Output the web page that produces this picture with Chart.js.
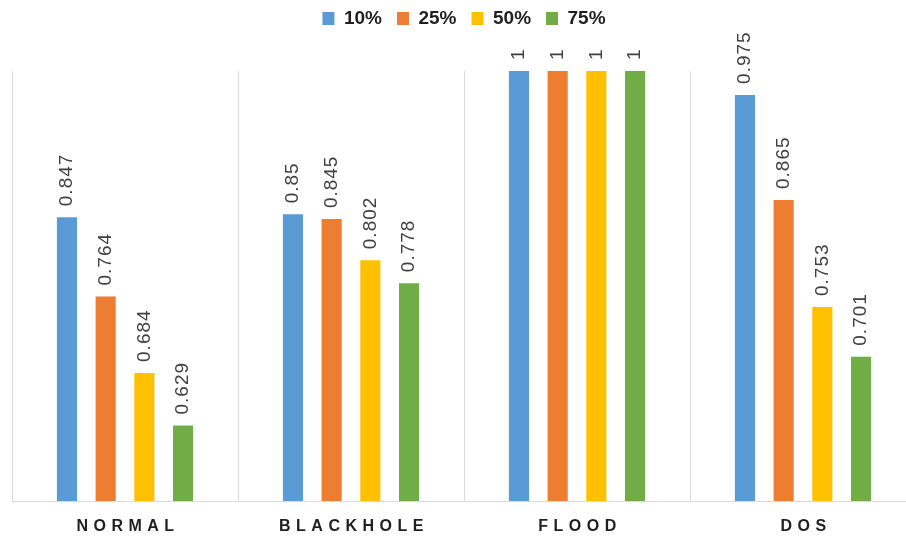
<!DOCTYPE html>
<html>
<head>
<meta charset="utf-8">
<script src="https://cdn.jsdelivr.net/npm/chart.js@4.4.1/dist/chart.umd.min.js"></script>
<style>
  html, body { margin: 0; padding: 0; background: #fff; overflow: hidden; }
  #wrap { width: 920px; height: 541px; }
</style>
</head>
<body>
<div id="wrap"><canvas id="chart"></canvas></div>
<script>
// datos del gráfico
const categories = ['NORMAL', 'BLACKHOLE', 'FLOOD', 'DOS'];
const seriesNames = ['10%', '25%', '50%', '75%'];
const values10 = [0.847, 0.85, 1, 0.975];
const values25 = [0.764, 0.845, 1, 0.865];
const values50 = [0.684, 0.802, 1, 0.753];
const values75 = [0.629, 0.778, 1, 0.701];
const colors = ['#5B9BD5', '#ED7D31', '#FFC000', '#70AD47'];

// más espacio bajo la leyenda
const legendGap = {
    id: 'legendGap',
    beforeInit(chart) {
        const fit = chart.legend.fit;
        chart.legend.fit = function () {
            fit.call(this);
            this.height += 33;
        };
    }
};

// etiquetas de valor giradas encima de cada barra
const valueLabels = {
    id: 'valueLabels',
    afterDatasetsDraw(chart) {
        const ctx = chart.ctx;
        ctx.save();
        ctx.font = '19px "Liberation Sans", Arial, sans-serif';
        ctx.fillStyle = '#404040';
        ctx.letterSpacing = '1px';
        ctx.textAlign = 'left';
        ctx.textBaseline = 'middle';
        chart.data.datasets.forEach((ds, i) => {
            chart.getDatasetMeta(i).data.forEach((bar, j) => {
                ctx.save();
                ctx.translate(bar.x, bar.y - 11);
                ctx.rotate(-Math.PI / 2);
                ctx.fillText(String(ds.data[j]), 0, 0);
                ctx.restore();
            });
        });
        ctx.restore();
    }
};

// nombres de categoría con espaciado de letras
const categoryLabels = {
    id: 'categoryLabels',
    afterDraw(chart) {
        const ctx = chart.ctx;
        const xScale = chart.scales.x;
        ctx.save();
        ctx.font = 'bold 16px "Liberation Sans", Arial, sans-serif';
        ctx.fillStyle = '#1f1f1f';
        ctx.letterSpacing = '5.5px';
        ctx.textAlign = 'center';
        ctx.textBaseline = 'middle';
        categories.forEach((label, i) => {
            ctx.fillText(label, xScale.getPixelForTick(i) + 3, 527);
        });
        ctx.restore();
    }
};

const data = [values10, values25, values50, values75];

new Chart(document.getElementById('chart'), {
    type: 'bar',
    data: {
        labels: categories,
        datasets: seriesNames.map((name, i) => ({
            label: name,
            data: data[i],
            backgroundColor: colors[i],
            categoryPercentage: 0.685,
            barPercentage: 0.52
        }))
    },
    options: {
        responsive: true,
        maintainAspectRatio: false,
        animation: false,
        layout: {
            padding: { left: 12, right: 4, top: -6, bottom: 40 }
        },
        plugins: {
            legend: {
                position: 'top',
                labels: {
                    boxWidth: 12,
                    boxHeight: 13,
                    padding: 15,
                    color: '#1f1f1f',
                    font: { family: '"Liberation Sans", sans-serif', size: 19, weight: 'bold' }
                }
            },
            tooltip: { enabled: false }
        },
        scales: {
            x: {
                offset: true,
                grid: { display: true, offset: true, color: '#d9d9d9', lineWidth: 1, drawTicks: false },
                border: { display: true, color: '#d9d9d9' },
                ticks: { display: false }
            },
            y: {
                display: false,
                min: 0.55,
                max: 1
            }
        }
    },
    plugins: [legendGap, valueLabels, categoryLabels]
});
</script>
</body>
</html>
